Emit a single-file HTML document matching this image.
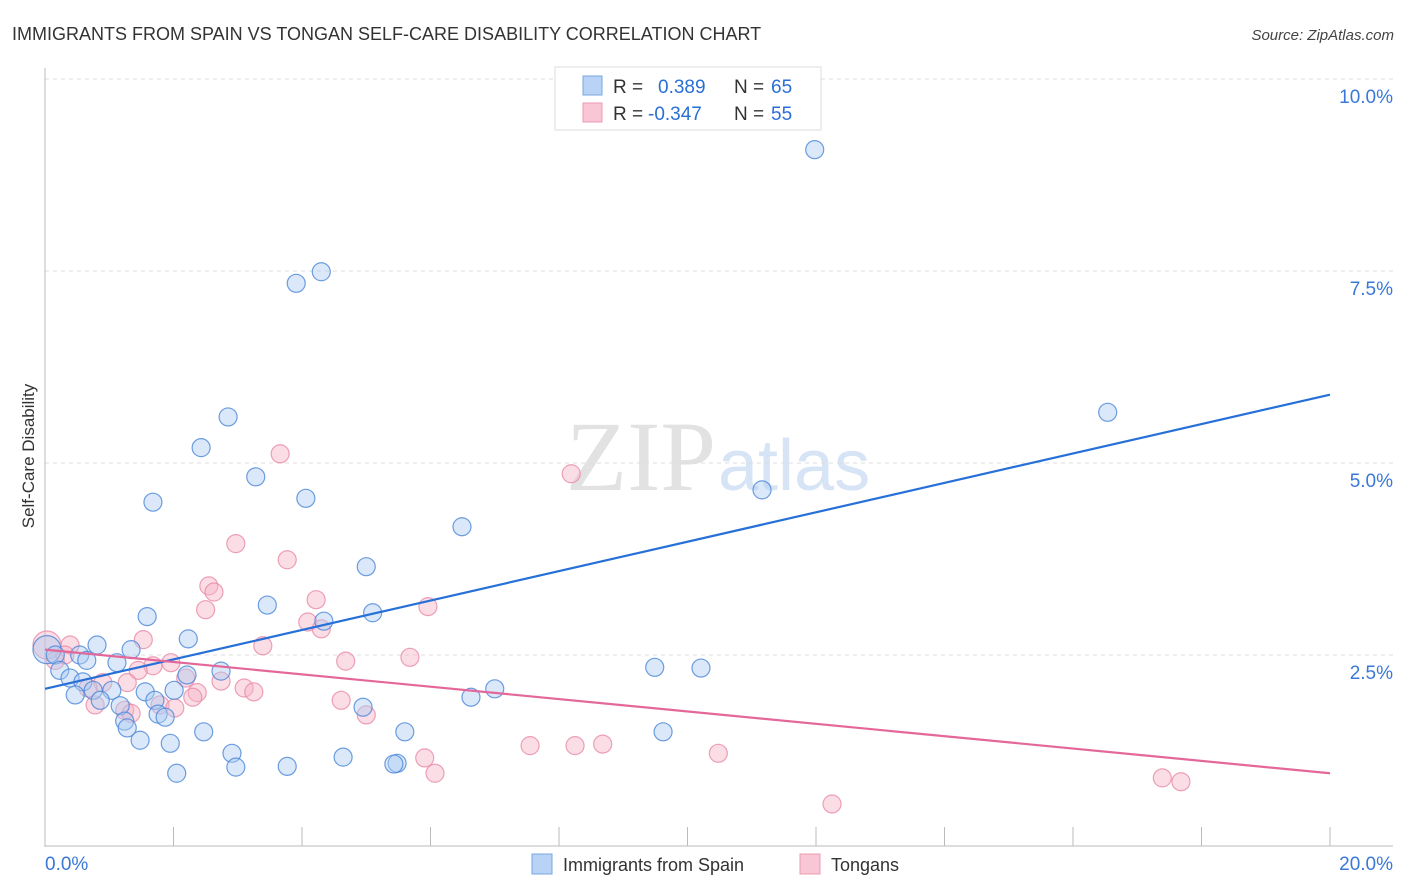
<!DOCTYPE html>
<html><head><meta charset="utf-8"><style>
body{margin:0;background:#fff;font-family:"Liberation Sans",sans-serif}
svg{display:block}
</style></head><body>
<svg id="c" width="1406" height="892" xmlns="http://www.w3.org/2000/svg">
<text x="12" y="40" font-size="18" fill="#333">IMMIGRANTS FROM SPAIN VS TONGAN SELF-CARE DISABILITY CORRELATION CHART</text>
<text x="1394" y="40" font-size="15" fill="#444" font-style="italic" text-anchor="end">Source: ZipAtlas.com</text>
<text x="716" y="490" font-size="100" fill="#e2e2e2" text-anchor="end" font-family="Liberation Serif,serif">ZIP</text>
<text x="718" y="490" font-size="72" fill="#d6e4f5">atlas</text>
<g id="grid"></g>
<g id="axes"></g>
<g id="pts"></g>
<g id="lines"></g>
<text x="34" y="456" font-size="17" fill="#333" text-anchor="middle" transform="rotate(-90 34 456)">Self-Care Disability</text>
<g>
<rect x="555" y="67" width="266" height="63" fill="#fff" stroke="#ddd"/>
<rect x="583" y="76" width="19" height="19" fill="#b8d3f5" stroke="#7aa7e0"/>
<text x="613" y="93" font-size="19" fill="#333">R = </text><text x="658" y="93" font-size="19" fill="#2a6fd6">0.389</text>
<text x="734" y="93" font-size="19" fill="#333">N = </text><text x="771" y="93" font-size="19" fill="#2a6fd6">65</text>
<rect x="583" y="103" width="19" height="19" fill="#f8c6d4" stroke="#eb9ab2"/>
<text x="613" y="120" font-size="19" fill="#333">R = </text><text x="648" y="120" font-size="19" fill="#2a6fd6">-0.347</text>
<text x="734" y="120" font-size="19" fill="#333">N = </text><text x="771" y="120" font-size="19" fill="#2a6fd6">55</text>
</g>
<g>
<rect x="532" y="854" width="20" height="20" fill="#b8d3f5" stroke="#7aa7e0"/>
<text x="563" y="871" font-size="18" fill="#333">Immigrants from Spain</text>
<rect x="800" y="854" width="20" height="20" fill="#f8c6d4" stroke="#eb9ab2"/>
<text x="831" y="871" font-size="18" fill="#333">Tongans</text>
</g>
</svg>
<script>
const yTicks=[2.5,5,7.5,10];
const yTickLabels=["2.5%","5.0%","7.5%","10.0%"];
const xTickLabels=["0.0%","20.0%"];
const blueX=[11.98,4.30,3.91,16.54,2.85,2.43,3.28,4.06,1.68,11.16,6.49,5.00,3.46,5.10,1.59,4.34,2.23,0.81,1.34,0.03,0.16,0.54,0.65,1.12,0.23,9.49,10.21,2.74,2.21,0.39,0.59,0.75,1.04,1.56,2.01,7.00,6.63,0.47,0.86,1.71,1.17,4.95,1.76,1.87,1.24,1.28,1.48,1.95,5.60,9.62,2.47,2.91,4.64,5.48,5.43,2.97,3.77,2.05];
const blueY=[9.08,7.49,7.34,5.66,5.60,5.20,4.82,4.54,4.49,4.65,4.17,3.65,3.15,3.05,3.00,2.94,2.71,2.63,2.57,2.57,2.50,2.50,2.43,2.40,2.30,2.34,2.33,2.29,2.24,2.20,2.15,2.04,2.04,2.02,2.04,2.06,1.95,1.98,1.91,1.91,1.84,1.82,1.73,1.69,1.64,1.55,1.39,1.35,1.50,1.50,1.50,1.22,1.17,1.09,1.08,1.04,1.05,0.96];
const pinkX=[3.66,8.19,2.97,3.77,2.55,2.63,4.22,2.50,5.96,4.09,4.30,1.53,3.39,0.39,0.03,5.68,4.68,0.16,1.68,1.96,1.45,2.19,0.90,1.28,3.10,3.25,2.37,2.74,2.30,4.61,0.78,1.79,2.02,1.24,1.34,5.00,7.55,8.25,8.68,10.48,5.91,6.07,17.39,17.68,12.25,0.31,0.67];
const pinkY=[5.12,4.86,3.95,3.74,3.40,3.32,3.22,3.09,3.13,2.93,2.84,2.70,2.62,2.63,2.63,2.47,2.42,2.43,2.36,2.40,2.30,2.20,2.14,2.14,2.07,2.02,2.01,2.16,1.95,1.91,1.85,1.85,1.81,1.78,1.74,1.72,1.32,1.32,1.34,1.22,1.16,0.96,0.90,0.85,0.56,2.50,2.07];
const blueTrend=[2.06,5.89];
const pinkTrend=[2.57,0.96];
const NS="http://www.w3.org/2000/svg";
const sx=v=>45+v/20*1285, sy=v=>847-v*76.8;
function mk(p,t,a){const e=document.createElementNS(NS,t);for(const k in a)e.setAttribute(k,a[k]);p.appendChild(e);return e;}
const gridG=document.getElementById('grid'),axesG=document.getElementById('axes'),ptsG=document.getElementById('pts'),linesG=document.getElementById('lines');
const topLine=mk(gridG,'line',{x1:45,x2:1393,y1:79,y2:79,stroke:'#ddd','stroke-dasharray':'4,4'});


yTicks.forEach((v,i)=>{
 const g=mk(gridG,'line',{x1:45,x2:1393,y1:sy(v),y2:sy(v),stroke:'#ddd','stroke-dasharray':'4,4'});
 
 
 const t=mk(gridG,'text',{x:1393,y:sy(v)+24,'font-size':19,fill:'#3a78d8','text-anchor':'end'});
 t.textContent=yTickLabels[i];
 
 
});
const ya=mk(axesG,'line',{x1:45,x2:45,y1:68,y2:847,stroke:'#bbb'});


const xa=mk(axesG,'line',{x1:45,x2:1393,y1:846,y2:846,stroke:'#bbb'});


for(let v=2;v<=20;v+=2){
 const tk=mk(axesG,'line',{x1:sx(v),x2:sx(v),y1:827,y2:846,stroke:'#bbb'});
 
 
}
[[0,'start',45],[20,'end',1393]].forEach((d,i)=>{
 const t=mk(axesG,'text',{x:d[2],y:870,'font-size':19,fill:'#3a78d8','text-anchor':d[1]});
 t.textContent=xTickLabels[i];
 
 
});
function dots(X,Y,fill,stroke,name){
 X.forEach((x,i)=>{
  const r=(x<0.1&&Y[i]>2.4)?14:9;
  const c=mk(ptsG,'circle',{cx:sx(x),cy:sy(Y[i]),r:r,fill:fill,'fill-opacity':0.45,stroke:stroke,'stroke-width':1.2,'stroke-opacity':0.8});
  
  
 });
}
dots(pinkX,pinkY,'#f6b3c6','#e889a6','point-tongans');
dots(blueX,blueY,'#aecbf2','#4a86d8','point-spain');
const bl=mk(linesG,'line',{x1:sx(0),y1:sy(blueTrend[0]),x2:sx(20),y2:sy(blueTrend[1]),stroke:'#2670d8','stroke-width':2.2});


const pl=mk(linesG,'line',{x1:sx(0),y1:sy(pinkTrend[0]),x2:sx(20),y2:sy(pinkTrend[1]),stroke:'#e4679a','stroke-width':2.2});


</script>
</body></html>
